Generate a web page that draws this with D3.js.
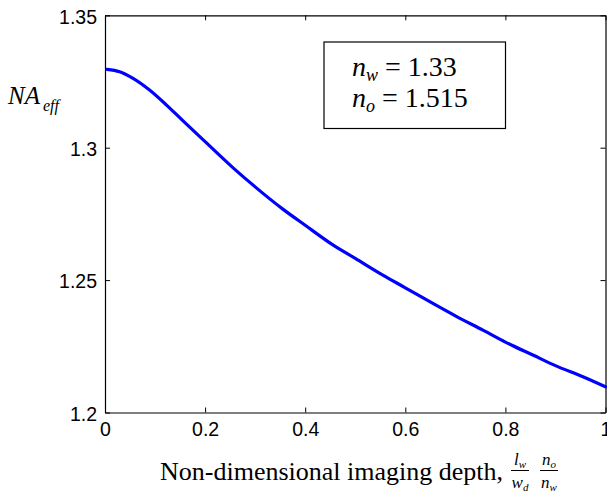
<!DOCTYPE html>
<html>
<head>
<meta charset="utf-8">
<script src="https://cdn.jsdelivr.net/npm/d3@7"></script>
<style>
  html, body { margin: 0; padding: 0; background: #fff; }
  svg { display: block; }
  .tick text { font-family: "Liberation Sans", Arial, sans-serif; }
  .serif { font-family: "Liberation Serif", "Times New Roman", serif; }
</style>
</head>
<body>
<svg id="chart" width="607" height="501"></svg>
<script>
// Data
const depth = [0.004, 0.029, 0.056, 0.089, 0.123, 0.156, 0.2, 0.256, 0.3, 0.356, 0.4, 0.456, 0.5, 0.556, 0.6, 0.656, 0.7, 0.756, 0.8, 0.856, 0.9, 0.956, 1.0];
const naEff = [1.3296, 1.3287, 1.3262, 1.3218, 1.3161, 1.3101, 1.3023, 1.2924, 1.2852, 1.2767, 1.2707, 1.2632, 1.2582, 1.2518, 1.2471, 1.2411, 1.2365, 1.2310, 1.2266, 1.2216, 1.2177, 1.2134, 1.2097];
const xTicks = [0, 0.2, 0.4, 0.6, 0.8, 1];
const xTickLabels = ["0", "0.2", "0.4", "0.6", "0.8", "1"];
const yTicks = [1.2, 1.25, 1.3, 1.35];
const yTickLabels = ["1.2", "1.25", "1.3", "1.35"];

const svg = d3.select("#chart");
const L = 105, R = 605.5, T = 15.3, B = 412.5;
const x = d3.scaleLinear().domain([0, 1]).range([L, R]);
const y = d3.scaleLinear().domain([1.2, 1.35]).range([B, T]);

const tickFont = 19.5;
const xAxis = d3.axisBottom(x).tickValues(xTicks).tickFormat((d, i) => xTickLabels[i]).tickSizeInner(-5).tickSizeOuter(0).tickPadding(10);
const gx = svg.append("g").attr("transform", `translate(0,${B})`).call(xAxis);
const gxt = svg.append("g").attr("transform", `translate(0,${T})`).call(d3.axisTop(x).tickValues(xTicks).tickFormat("").tickSizeInner(-5).tickSizeOuter(0));
const yAxis = d3.axisLeft(y).tickValues(yTicks).tickFormat((d, i) => yTickLabels[i]).tickSizeInner(-5).tickSizeOuter(0).tickPadding(8);
const gy = svg.append("g").attr("transform", `translate(${L},0)`).call(yAxis);
const gyr = svg.append("g").attr("transform", `translate(${R},0)`).call(d3.axisRight(y).tickValues(yTicks).tickFormat("").tickSizeInner(-5).tickSizeOuter(0));

[gx, gxt, gy, gyr].forEach(g => {
  g.selectAll(".domain").attr("stroke", "#000").attr("stroke-width", 1.2);
  g.selectAll(".tick line").attr("stroke", "#000").attr("stroke-width", 1);
  g.selectAll(".tick text").attr("fill", "#000").style("font-size", tickFont + "px");
});
gy.selectAll(".tick text").attr("dy", "0.4em");

// curve
const line = d3.line().x((d, i) => x(depth[i])).y(d => y(d)).curve(d3.curveMonotoneX);
svg.append("path").datum(naEff).attr("d", line)
  .attr("fill", "none").attr("stroke", "#0000ff").attr("stroke-width", 3.2).attr("stroke-linecap", "round");

// legend box
svg.append("rect").attr("x", 324).attr("y", 42).attr("width", 181.5).attr("height", 86.5)
  .attr("fill", "#fff").attr("stroke", "#000").attr("stroke-width", 1.2);
const legSubs = ["w", "o"];
const legVals = ["1.33", "1.515"];
const legBase = [75.5, 107];
legSubs.forEach((sub, i) => {
  const t = svg.append("text").attr("class", "serif").attr("x", 352).attr("y", legBase[i]).style("font-size", "28px").attr("fill", "#000");
  t.append("tspan").style("font-style", "italic").text("n");
  t.append("tspan").style("font-style", "italic").style("font-size", "18px").attr("dy", 5).text(sub);
  t.append("tspan").attr("dy", -5).text(" = " + legVals[i]);
});

// y label
const yl = svg.append("text").attr("class", "serif").attr("x", 8).attr("y", 104).style("font-size", "25px").style("font-style", "italic").attr("fill", "#000");
yl.append("tspan").text("NA");
yl.append("tspan").style("font-size", "16px").attr("dx", 3).attr("dy", 7).text("eff");

// x label
svg.append("text").attr("class", "serif").attr("x", 160).attr("y", 480).style("font-size", "26px").attr("fill", "#000")
  .text("Non-dimensional imaging depth,");
function frac(cx, num, numSub, den, denSub) {
  const g = svg.append("g");
  const nt = g.append("text").attr("class", "serif").attr("x", cx).attr("y", 465).attr("text-anchor", "middle").style("font-size", "17px").style("font-style", "italic");
  nt.append("tspan").text(num);
  nt.append("tspan").style("font-size", "11px").attr("dy", 3).text(numSub);
  const dt = g.append("text").attr("class", "serif").attr("x", cx).attr("y", 488).attr("text-anchor", "middle").style("font-size", "17px").style("font-style", "italic");
  dt.append("tspan").text(den);
  dt.append("tspan").style("font-size", "11px").attr("dy", 3).text(denSub);
  g.append("line").attr("x1", cx - 9).attr("x2", cx + 9).attr("y1", 470.5).attr("y2", 470.5).attr("stroke", "#000").attr("stroke-width", 1);
}
frac(520, "l", "w", "w", "d");
frac(549, "n", "o", "n", "w");
</script>
</body>
</html>
